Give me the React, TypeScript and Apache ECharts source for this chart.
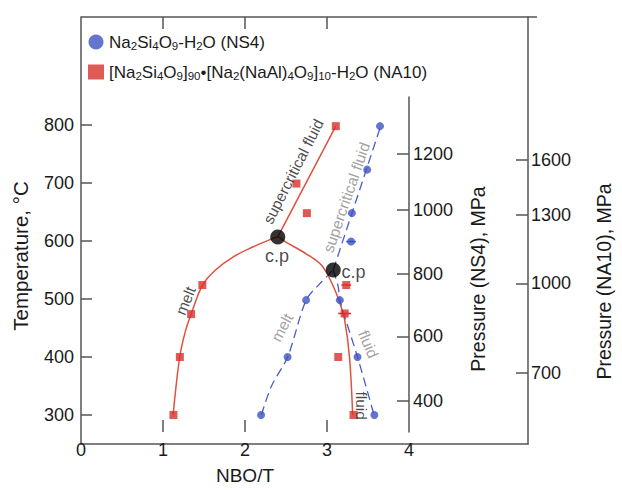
import React, { useEffect, useRef } from 'react';
import * as echarts from 'echarts';

// ---- axis ticks / calibrations ----
const xLabelValues = [0, 1, 2, 3, 4];
const xTickValues = [1, 2, 3];
const tempTicks = [300, 400, 500, 600, 700, 800];
const ns4PressureLabels = [400, 600, 800, 1000, 1200];
const ns4PressureAtTemp = [306, 420.7, 532.8, 646.6, 746.6];
const na10PressureLabels = [700, 1000, 1300, 1600];
const na10PressureAtTemp = [372.9, 527, 644.8, 739.7];

// axis extents (data units)
const X_MAX = 5.561;
const T_MIN = 250;
const T_MAX = 986.2;
const T_MAX_NS4 = 848.3;

// ---- measured points ----
const ns4X = [2.24, 2.57, 2.8, 3.22, 3.36, 3.37, 3.56, 3.72, 3.44, 3.65];
const ns4T = [300, 400, 498, 498, 599, 648, 723, 798, 400, 300];
const na10X = [1.15, 1.23, 1.37, 1.51, 2.68, 2.81, 3.17, 3.3, 3.28, 3.2, 3.39];
const na10T = [300, 400, 474, 524, 699, 648, 798, 524, 475, 400, 300];

// error bars (x, T, half width)
const ns4ErrX = [3.36];
const ns4ErrT = [599];
const ns4ErrW = [0.06];
const na10ErrX = [3.3, 3.28];
const na10ErrT = [524, 475];
const na10ErrW = [0.06, 0.08];

// critical points
const cpX = [2.448, 3.138];
const cpT = [607, 550];

// ---- curves ----
const na10DomeX = [1.146, 1.228, 1.3, 1.37, 1.512, 1.674, 1.899, 2.143, 2.345, 2.448, 2.549, 2.8, 3.0, 3.138, 3.22, 3.28, 3.34, 3.38];
const na10DomeT = [300, 400, 445, 474, 524, 550, 573, 590, 602, 607, 598, 578, 557, 522, 493, 464, 400, 300];
const na10SuperX = [2.448, 3.17];
const na10SuperT = [607, 798];
const ns4MeltX = [2.244, 2.37, 2.57, 2.8, 2.955, 3.138];
const ns4MeltT = [300, 350, 400, 498, 524, 550];
const ns4FluidX = [3.138, 3.2, 3.22, 3.44, 3.646];
const ns4FluidT = [550, 521, 498, 400, 300];
const ns4SuperX = [3.138, 3.728];
const ns4SuperT = [550, 798];

// ---- annotations ----
const annoText = ['supercritical fluid', 'supercritical fluid', 'melt', 'melt', 'fluid', 'fluid', 'c.p', 'c.p'];
const annoX = [2.64, 3.3, 1.3, 2.5, 3.575, 3.49, 2.437, 3.39];
const annoT = [720, 675, 497, 451, 422, 316, 574, 547];
const annoRotate = [63, 71, 68, 62, -67, -90, 0, 0];
const annoGray = [false, true, false, true, true, false, false, false];

const FONT = "'Liberation Sans', Arial, Helvetica, sans-serif";
const AXIS_COLOR = '#555';
const TEXT_COLOR = '#1a1a1a';
const RED = '#d8312a';
const RED_LINE = '#e0503c';
const BLUE = '#3d52c2';
const BLUE_LINE = '#4a5cc6';
const GRAY_TEXT = '#8a8a8a';

const GRID = { left: 81, top: 17, width: 456, height: 427 };

const zip = (xs: number[], ys: number[]) => xs.map((x, i) => [x, ys[i]]);

const lookupLabel = (temps: number[], labels: number[]) => (v: number) => {
  const i = temps.findIndex((t) => Math.abs(t - v) < 0.01);
  return i >= 0 ? String(labels[i]) : '';
};

export default function App() {
  const ref = useRef<HTMLDivElement>(null);

  useEffect(() => {
    if (!ref.current) return;
    const chart = echarts.init(ref.current, null, { renderer: 'svg' });

    const lineStyle = { color: AXIS_COLOR, width: 1.5 };
    const axisLine = () => ({ show: true, onZero: false, lineStyle: { ...lineStyle } });
    const labelStyle = { color: TEXT_COLOR, fontSize: 18, fontFamily: FONT };
    const nameStyle = (pad: number, size = 19.5) => ({ color: TEXT_COLOR, fontSize: size, fontFamily: FONT, padding: [0, pad, 0, 0] });

    const errRender = (color: string) => (params: any, api: any) => {
      const x = api.value(0);
      const y = api.value(1);
      const w = api.value(2);
      const p1 = api.coord([x - w, y]);
      const p2 = api.coord([x + w, y]);
      return {
        type: 'line',
        shape: { x1: p1[0], y1: p1[1], x2: p2[0], y2: p2[1] },
        style: { stroke: color, lineWidth: 1.6 },
      };
    };

    // top frame of the plot box, with its ticks at x = 1, 2, 3
    const topTickPx = (x: number) => GRID.left + (x / X_MAX) * GRID.width;
    const frameGraphics: any[] = [
      {
        type: 'line', z: 100, silent: true,
        shape: { x1: GRID.left, y1: GRID.top, x2: GRID.left + GRID.width, y2: GRID.top },
        style: { stroke: AXIS_COLOR, lineWidth: 1.5 },
      },
      ...xTickValues.map((x) => ({
        type: 'line', z: 100, silent: true,
        shape: { x1: topTickPx(x), y1: GRID.top, x2: topTickPx(x), y2: GRID.top + 12 },
        style: { stroke: AXIS_COLOR, lineWidth: 1.5 },
      })),
    ];

    const sub = { fontSize: 11.5, lineHeight: 11, verticalAlign: 'bottom', fontFamily: FONT, color: TEXT_COLOR };

    chart.setOption({
      animation: false,
      backgroundColor: '#fff',
      grid: [
        { ...GRID },
        { left: 81, top: 97, width: 328, height: 347 },
      ],
      graphic: frameGraphics,
      legend: {
        left: 88,
        top: 32,
        orient: 'vertical',
        itemGap: 10,
        itemWidth: 16,
        itemHeight: 15,
        padding: 0,
        data: [
          { name: 'NS4', icon: 'circle' },
          { name: 'NA10', icon: 'rect' },
        ],
        formatter: (name: string) =>
          name === 'NS4'
            ? 'Na{s|2}Si{s|4}O{s|9}-H{s|2}O (NS4)'
            : '[Na{s|2}Si{s|4}O{s|9}]{s|90}•[Na{s|2}(NaAl){s|4}O{s|9}]{s|10}-H{s|2}O (NA10)',
        textStyle: { fontSize: 17, lineHeight: 20, fontFamily: FONT, color: TEXT_COLOR, rich: { s: sub } },
      },
      xAxis: [
        {
          gridIndex: 0, type: 'value', position: 'bottom', min: 0, max: X_MAX,
          axisLine: axisLine(), axisTick: { show: false }, axisLabel: { show: false }, splitLine: { show: false },
        },
        {
          gridIndex: 1, type: 'value', position: 'bottom', min: 0, max: 4,
          axisLine: { show: false, onZero: false },
          axisTick: { show: true, inside: true, length: 12, customValues: xTickValues, lineStyle },
          axisLabel: { show: true, customValues: xLabelValues, margin: 9, ...labelStyle },
          splitLine: { show: false },
          name: 'NBO/T', nameLocation: 'middle', nameGap: 34,
          nameTextStyle: { color: TEXT_COLOR, fontSize: 19, fontFamily: FONT },
        },
      ],
      yAxis: [
        {
          gridIndex: 0, type: 'value', position: 'left', min: T_MIN, max: T_MAX,
          axisLine: axisLine(),
          axisTick: { show: true, inside: true, length: 11, customValues: tempTicks, lineStyle },
          axisLabel: { show: true, customValues: tempTicks, margin: 7, ...labelStyle },
          splitLine: { show: false },
          name: 'Temperature, °C', nameLocation: 'middle', nameGap: 50, nameRotate: 90,
          nameTextStyle: nameStyle(51, 20.5),
        },
        {
          gridIndex: 0, type: 'value', position: 'right', min: T_MIN, max: T_MAX,
          axisLine: axisLine(),
          axisTick: { show: true, inside: true, length: 12, customValues: na10PressureAtTemp, lineStyle },
          axisLabel: {
            show: true, customValues: na10PressureAtTemp, margin: 3, ...labelStyle,
            formatter: lookupLabel(na10PressureAtTemp, na10PressureLabels),
          },
          splitLine: { show: false },
          name: 'Pressure (NA10), MPa', nameLocation: 'middle', nameGap: 66, nameRotate: 90,
          nameTextStyle: nameStyle(102),
        },
        {
          gridIndex: 1, type: 'value', position: 'right', min: T_MIN, max: T_MAX_NS4,
          axisLine: axisLine(),
          axisTick: { show: true, inside: true, length: 12, customValues: ns4PressureAtTemp, lineStyle },
          axisLabel: {
            show: true, customValues: ns4PressureAtTemp, margin: 4, ...labelStyle,
            formatter: lookupLabel(ns4PressureAtTemp, ns4PressureLabels),
          },
          splitLine: { show: false },
          name: 'Pressure (NS4), MPa', nameLocation: 'middle', nameGap: 59, nameRotate: 90,
          nameTextStyle: nameStyle(29),
        },
      ],
      series: [
        {
          name: 'NA10 dome', type: 'line', xAxisIndex: 0, yAxisIndex: 0, data: zip(na10DomeX, na10DomeT),
          smooth: 0.35, showSymbol: false, symbol: 'none', z: 2,
          lineStyle: { color: RED_LINE, width: 1.5 },
        },
        {
          name: 'NA10 super', type: 'line', xAxisIndex: 0, yAxisIndex: 0, data: zip(na10SuperX, na10SuperT),
          showSymbol: false, symbol: 'none', z: 2,
          lineStyle: { color: RED_LINE, width: 1.5 },
        },
        {
          name: 'NS4 melt', type: 'line', xAxisIndex: 0, yAxisIndex: 0, data: zip(ns4MeltX, ns4MeltT),
          smooth: 0.3, showSymbol: false, symbol: 'none', z: 2,
          lineStyle: { color: BLUE_LINE, width: 1.3, type: [9, 5] },
        },
        {
          name: 'NS4 fluid', type: 'line', xAxisIndex: 0, yAxisIndex: 0, data: zip(ns4FluidX, ns4FluidT),
          smooth: 0.3, showSymbol: false, symbol: 'none', z: 2,
          lineStyle: { color: BLUE_LINE, width: 1.3, type: [9, 5] },
        },
        {
          name: 'NS4 super', type: 'line', xAxisIndex: 0, yAxisIndex: 0, data: zip(ns4SuperX, ns4SuperT),
          showSymbol: false, symbol: 'none', z: 2,
          lineStyle: { color: BLUE_LINE, width: 1.3, type: [9, 5] },
        },
        {
          name: 'NS4 err', type: 'custom', xAxisIndex: 0, yAxisIndex: 0, z: 3,
          renderItem: errRender(BLUE),
          data: ns4ErrX.map((x, i) => [x, ns4ErrT[i], ns4ErrW[i]]),
        },
        {
          name: 'NA10 err', type: 'custom', xAxisIndex: 0, yAxisIndex: 0, z: 3,
          renderItem: errRender(RED),
          data: na10ErrX.map((x, i) => [x, na10ErrT[i], na10ErrW[i]]),
        },
        {
          name: 'NS4', type: 'scatter', xAxisIndex: 0, yAxisIndex: 0, data: zip(ns4X, ns4T),
          symbol: 'circle', symbolSize: 8, z: 4, itemStyle: { color: BLUE },
        },
        {
          name: 'NA10', type: 'scatter', xAxisIndex: 0, yAxisIndex: 0, data: zip(na10X, na10T),
          symbol: 'rect', symbolSize: 8, z: 4, itemStyle: { color: RED },
        },
        {
          name: 'critical point', type: 'scatter', xAxisIndex: 0, yAxisIndex: 0, data: zip(cpX, cpT),
          symbol: 'circle', symbolSize: 15, z: 5, itemStyle: { color: '#000' },
        },
        {
          name: 'annotations', type: 'scatter', xAxisIndex: 0, yAxisIndex: 0, symbolSize: 0, z: 6, silent: true,
          label: { show: true, position: 'inside', formatter: '{b}', fontFamily: FONT, fontSize: 15.5 },
          data: annoText.map((t, i) => ({
            name: t,
            value: [annoX[i], annoT[i]],
            label: {
              rotate: annoRotate[i],
              color: annoGray[i] ? GRAY_TEXT : TEXT_COLOR,
              fontSize: t === 'c.p' ? 18 : 15.5,
            },
          })),
        },
      ],
    });

    return () => chart.dispose();
  }, []);

  return <div ref={ref} style={{ position: 'fixed', left: 0, top: 0, width: 622, height: 490, background: '#fff' }} />;
}
